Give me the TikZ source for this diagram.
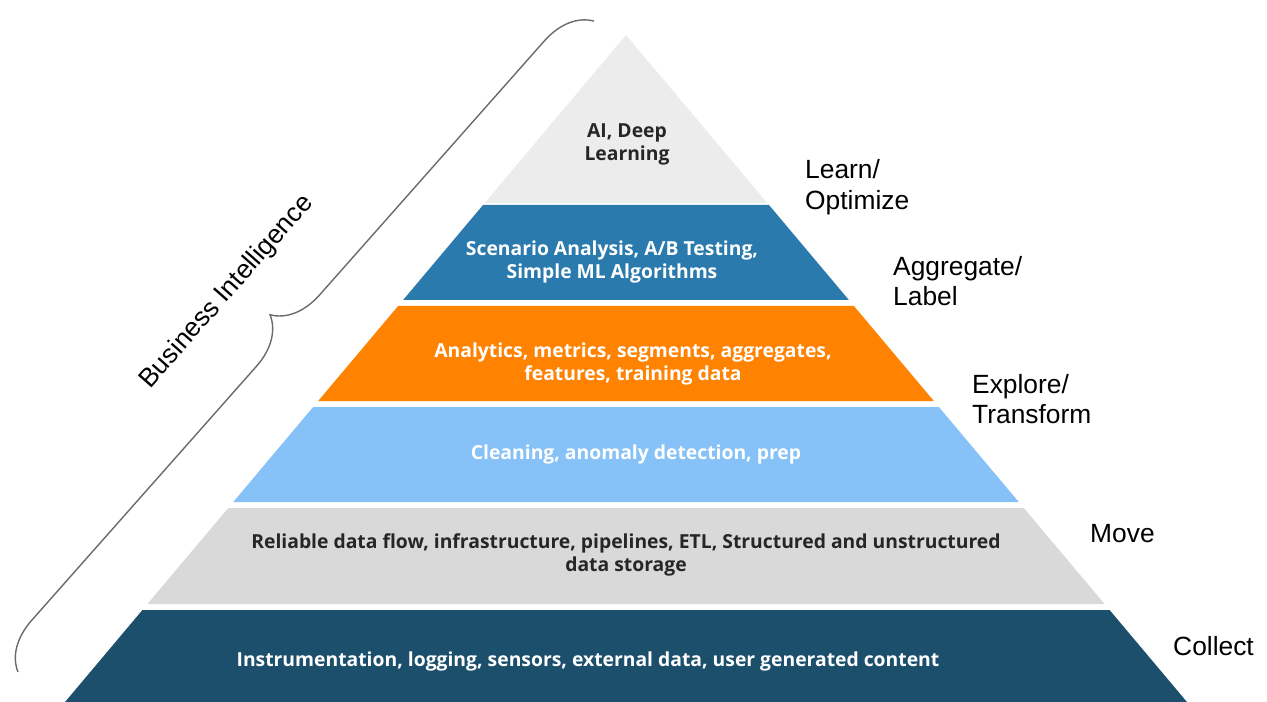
\documentclass[tikz,border=0pt]{standalone}
\usepackage{fontspec}
\setmainfont{Liberation Sans}
\newfontfamily\tierfont{Open Sans}
\usepackage{tikz}
\usetikzlibrary{calc, positioning, decorations.pathreplacing}

\definecolor{tierA}{HTML}{ECECEC}
\definecolor{tierB}{HTML}{2A7AAD}
\definecolor{tierC}{HTML}{FF8200}
\definecolor{tierD}{HTML}{86C2F7}
\definecolor{tierE}{HTML}{D9D9D9}
\definecolor{tierF}{HTML}{1B4F6C}
\definecolor{bracegray}{HTML}{6B6B6B}

\tikzset{
	tiertext/.style={align=center, font=\tierfont\bfseries\fontsize{11}{13}\selectfont},
	steplabel/.style={anchor=west, align=left, font=\fontsize{15}{17.5}\selectfont}
}

\begin{document}
\begin{tikzpicture}
		[x=0.02cm, y=-0.02cm]
	
		\useasboundingbox (0,0) rectangle (1267,702);
	
		% tiers %
		\foreach \ya/\yb/\col in {35/203/tierA, 205/300/tierB, 306/401/tierC, 407/502/tierD, 508/604/tierE, 610/702/tierF}
			\fill[\col] ({626-0.841*(\ya-35)},\ya) -- ({626+0.841*(\ya-35)},\ya)
				-- ({626+0.841*(\yb-35)},\yb) -- ({626-0.841*(\yb-35)},\yb) -- cycle;
	
		% nodes %
		\node[tiertext, text=black!85] (ai) at (627,144) {AI, Deep\\Learning};
		\node[tiertext, text=white] (scen) at (612,262) {Scenario Analysis, A/B Testing,\\Simple ML Algorithms};
		\node[tiertext, text=white] (anal) at (633,364) {Analytics, metrics, segments, aggregates,\\features, training data};
		\node[tiertext, text=white] (clean) at (636,454) {Cleaning, anomaly detection, prep};
		\node[tiertext, text=black!85] (flow) at (626,555) {Reliable data flow, infrastructure, pipelines, ETL, Structured and unstructured\\data storage};
		\node[tiertext, text=white] (instr) at (588,661) {Instrumentation, logging, sensors, external data, user generated content};
	
		\node[steplabel] (learn) at (799,187) {Learn/\\Optimize};
		\node[steplabel] (aggr) at (887,281) {Aggregate/\\Label};
		\node[steplabel] (expl) at (966,399) {Explore/\\Transform};
		\node[steplabel] (move) at (1084,534) {Move};
		\node[steplabel] (coll) at (1167,646) {Collect};
	
		% brace %
		\coordinate (bilow) at (18,672);
		\coordinate (bihigh) at (594,21);
		\draw[bracegray, line width=0.8pt, decorate, decoration={brace, amplitude=0.96cm}] (bilow) -- (bihigh);
		\node[rotate=48.6, font=\fontsize{15}{17.5}\selectfont] (bi) at (227,292) {Business Intelligence};
	
		\end{tikzpicture}
\end{document}
